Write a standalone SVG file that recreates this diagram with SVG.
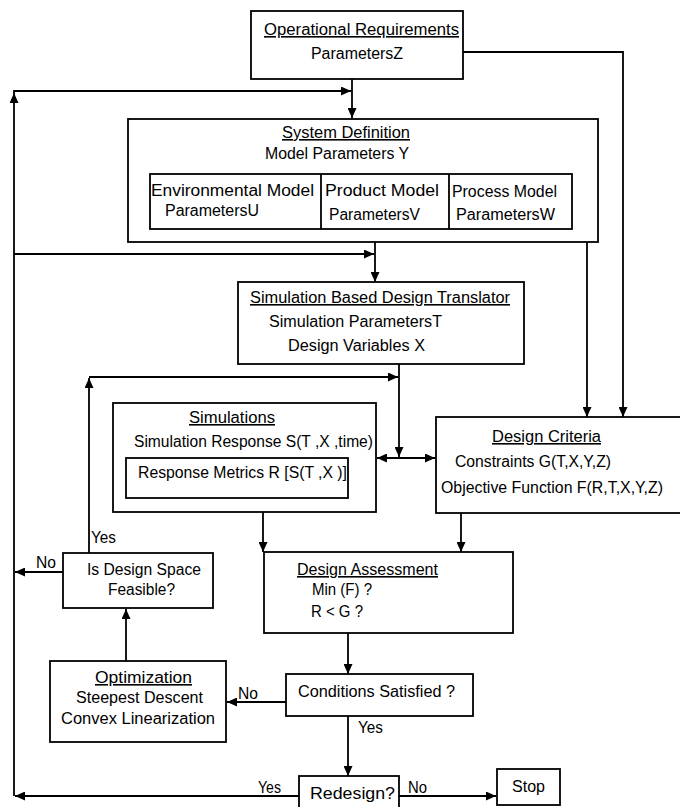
<svg xmlns="http://www.w3.org/2000/svg" width="680" height="807" viewBox="0 0 680 807">
  <style>
    .box { fill: #fff; stroke: #000; stroke-width: 1.8; }
    .ln { fill: none; stroke: #000; stroke-width: 1.8; }
    .arr { fill: none; stroke: #000; stroke-width: 1.8; marker-end: url(#ah); }
    text { font-family: "Liberation Sans", Arial, sans-serif; font-size: 16px; fill: #000; }
    .u { text-decoration: underline; }
  </style>
  <defs>
    <marker id="ah" markerUnits="userSpaceOnUse" markerWidth="11" markerHeight="9" refX="10" refY="4.5" orient="auto">
      <path d="M0,0 L10,4.5 L0,9 Z" fill="#000"/>
    </marker>
    <marker id="ahs" markerUnits="userSpaceOnUse" markerWidth="11" markerHeight="9" refX="0" refY="4.5" orient="auto">
      <path d="M10,0 L0,4.5 L10,9 Z" fill="#000"/>
    </marker>
  </defs>
  <rect width="680" height="807" fill="#fff"/>

  <!-- connectors -->
  <g id="connectors">
    <!-- requirements into system definition -->
    <line class="arr" x1="352" y1="79" x2="352" y2="118"/>
    <!-- requirements to design criteria -->
    <polyline class="arr" points="463,52 623,52 623,417"/>
    <!-- system definition to design criteria -->
    <line class="arr" x1="587" y1="242" x2="587" y2="417"/>
    <!-- system definition to translator -->
    <line class="arr" x1="375" y1="242" x2="375" y2="282"/>
    <!-- outer redesign loop -->
    <line class="arr" x1="14" y1="796" x2="14" y2="93"/>
    <polyline class="ln" points="14,93 14,91 350,91"/>
    <line class="arr" x1="14" y1="91" x2="351" y2="91"/>
    <line class="arr" x1="14" y1="254" x2="374" y2="254"/>
    <!-- translator to simulations / criteria -->
    <line class="arr" x1="399" y1="364" x2="399" y2="457"/>
    <line class="ln" x1="377" y1="458" x2="435" y2="458" marker-start="url(#ahs)" marker-end="url(#ah)"/>
    <!-- feasibility loop back to translator output -->
    <line class="arr" x1="89" y1="553" x2="89" y2="378"/>
    <line class="arr" x1="89" y1="377" x2="398" y2="377"/>
    <!-- into design assessment -->
    <line class="arr" x1="263" y1="512" x2="263" y2="552"/>
    <line class="arr" x1="461" y1="513" x2="461" y2="552"/>
    <!-- assessment to conditions -->
    <line class="arr" x1="348" y1="633" x2="348" y2="674"/>
    <!-- conditions: no -> optimization, yes -> redesign -->
    <line class="arr" x1="286" y1="702" x2="227" y2="702"/>
    <line class="arr" x1="348" y1="716" x2="348" y2="776"/>
    <!-- optimization to feasibility check -->
    <line class="arr" x1="126" y1="661" x2="126" y2="609"/>
    <!-- infeasible: back to outer loop -->
    <line class="arr" x1="63" y1="572" x2="15" y2="572"/>
    <!-- redesign outcomes -->
    <line class="arr" x1="299" y1="796" x2="15" y2="796"/>
    <line class="arr" x1="399" y1="796" x2="496" y2="796"/>

    <text x="91" y="543" textLength="25" lengthAdjust="spacingAndGlyphs">Yes</text>
    <text x="36" y="568" textLength="20" lengthAdjust="spacingAndGlyphs">No</text>
    <text x="238" y="699" textLength="20" lengthAdjust="spacingAndGlyphs">No</text>
    <text x="358" y="733" textLength="25" lengthAdjust="spacingAndGlyphs">Yes</text>
    <text x="258" y="793" textLength="23" lengthAdjust="spacingAndGlyphs">Yes</text>
    <text x="408" y="793" textLength="19" lengthAdjust="spacingAndGlyphs">No</text>
  </g>

  <g id="operational-requirements">
    <rect class="box" x="251" y="11" width="212" height="68"/>
    <text class="u" x="264" y="35" textLength="195" lengthAdjust="spacingAndGlyphs">Operational Requirements</text>
    <text x="311" y="59" textLength="92" lengthAdjust="spacingAndGlyphs">ParametersZ</text>
  </g>

  <g id="system-definition">
    <rect class="box" x="128" y="119" width="470" height="123"/>
    <text class="u" x="282" y="138" textLength="128" lengthAdjust="spacingAndGlyphs">System Definition</text>
    <text x="265" y="159" textLength="144" lengthAdjust="spacingAndGlyphs">Model Parameters Y</text>
    <rect class="box" x="150" y="174" width="422" height="55"/>
    <line class="ln" x1="321" y1="174" x2="321" y2="229"/>
    <line class="ln" x1="449" y1="174" x2="449" y2="229"/>
    <text x="151" y="196" textLength="163" lengthAdjust="spacingAndGlyphs">Environmental  Model</text>
    <text x="165" y="216" textLength="94" lengthAdjust="spacingAndGlyphs">ParametersU</text>
    <text x="325" y="196" textLength="114" lengthAdjust="spacingAndGlyphs">Product  Model</text>
    <text x="329" y="220" textLength="91" lengthAdjust="spacingAndGlyphs">ParametersV</text>
    <text x="452" y="197" textLength="105" lengthAdjust="spacingAndGlyphs">Process Model</text>
    <text x="456" y="220" textLength="99" lengthAdjust="spacingAndGlyphs">ParametersW</text>
  </g>

  <g id="design-translator">
    <rect class="box" x="238" y="282" width="286" height="82"/>
    <text class="u" x="250" y="303" textLength="260" lengthAdjust="spacingAndGlyphs">Simulation Based Design Translator</text>
    <text x="269" y="327" textLength="173" lengthAdjust="spacingAndGlyphs">Simulation ParametersT</text>
    <text x="288" y="351" textLength="137" lengthAdjust="spacingAndGlyphs">Design Variables  X</text>
  </g>

  <g id="simulations">
    <rect class="box" x="113" y="403" width="263" height="109"/>
    <text class="u" x="189" y="423" textLength="86" lengthAdjust="spacingAndGlyphs">Simulations</text>
    <text x="134" y="447" textLength="239" lengthAdjust="spacingAndGlyphs">Simulation Response S(T ,X ,time)</text>
    <rect class="box" x="126" y="458" width="222" height="40"/>
    <text x="138" y="478" textLength="209" lengthAdjust="spacingAndGlyphs">Response Metrics  R [S(T ,X )]</text>
  </g>

  <g id="design-criteria">
    <rect class="box" x="436" y="417" width="250" height="96"/>
    <text class="u" x="492" y="442" textLength="109" lengthAdjust="spacingAndGlyphs">Design Criteria</text>
    <text x="455" y="467" textLength="156" lengthAdjust="spacingAndGlyphs">Constraints G(T,X,Y,Z)</text>
    <text x="441" y="493" textLength="222" lengthAdjust="spacingAndGlyphs">Objective Function F(R,T,X,Y,Z)</text>
  </g>

  <g id="design-space-feasible">
    <rect class="box" x="63" y="553" width="150" height="55"/>
    <text x="87" y="575" textLength="114" lengthAdjust="spacingAndGlyphs">Is Design Space</text>
    <text x="108" y="595" textLength="67" lengthAdjust="spacingAndGlyphs">Feasible?</text>
  </g>

  <g id="design-assessment">
    <rect class="box" x="264" y="552" width="249" height="81"/>
    <text class="u" x="297" y="575" textLength="141" lengthAdjust="spacingAndGlyphs">Design Assessment</text>
    <text x="312" y="595" textLength="60" lengthAdjust="spacingAndGlyphs">Min (F) ?</text>
    <text x="311" y="617" textLength="52" lengthAdjust="spacingAndGlyphs">R &lt; G  ?</text>
  </g>

  <g id="optimization">
    <rect class="box" x="50" y="661" width="176" height="81"/>
    <text class="u" x="95" y="683" textLength="97" lengthAdjust="spacingAndGlyphs">Optimization</text>
    <text x="76" y="703" textLength="127" lengthAdjust="spacingAndGlyphs">Steepest Descent</text>
    <text x="61" y="724" textLength="154" lengthAdjust="spacingAndGlyphs">Convex Linearization</text>
  </g>

  <g id="conditions-satisfied">
    <rect class="box" x="286" y="674" width="187" height="42"/>
    <text x="298" y="697" textLength="157" lengthAdjust="spacingAndGlyphs">Conditions Satisfied ?</text>
  </g>

  <g id="redesign">
    <rect class="box" x="299" y="776" width="100" height="36"/>
    <text x="310" y="799" textLength="85" lengthAdjust="spacingAndGlyphs">Redesign?</text>
  </g>

  <g id="stop">
    <rect class="box" x="497" y="769" width="63" height="36"/>
    <text x="512" y="792" textLength="33" lengthAdjust="spacingAndGlyphs">Stop</text>
  </g>
</svg>
